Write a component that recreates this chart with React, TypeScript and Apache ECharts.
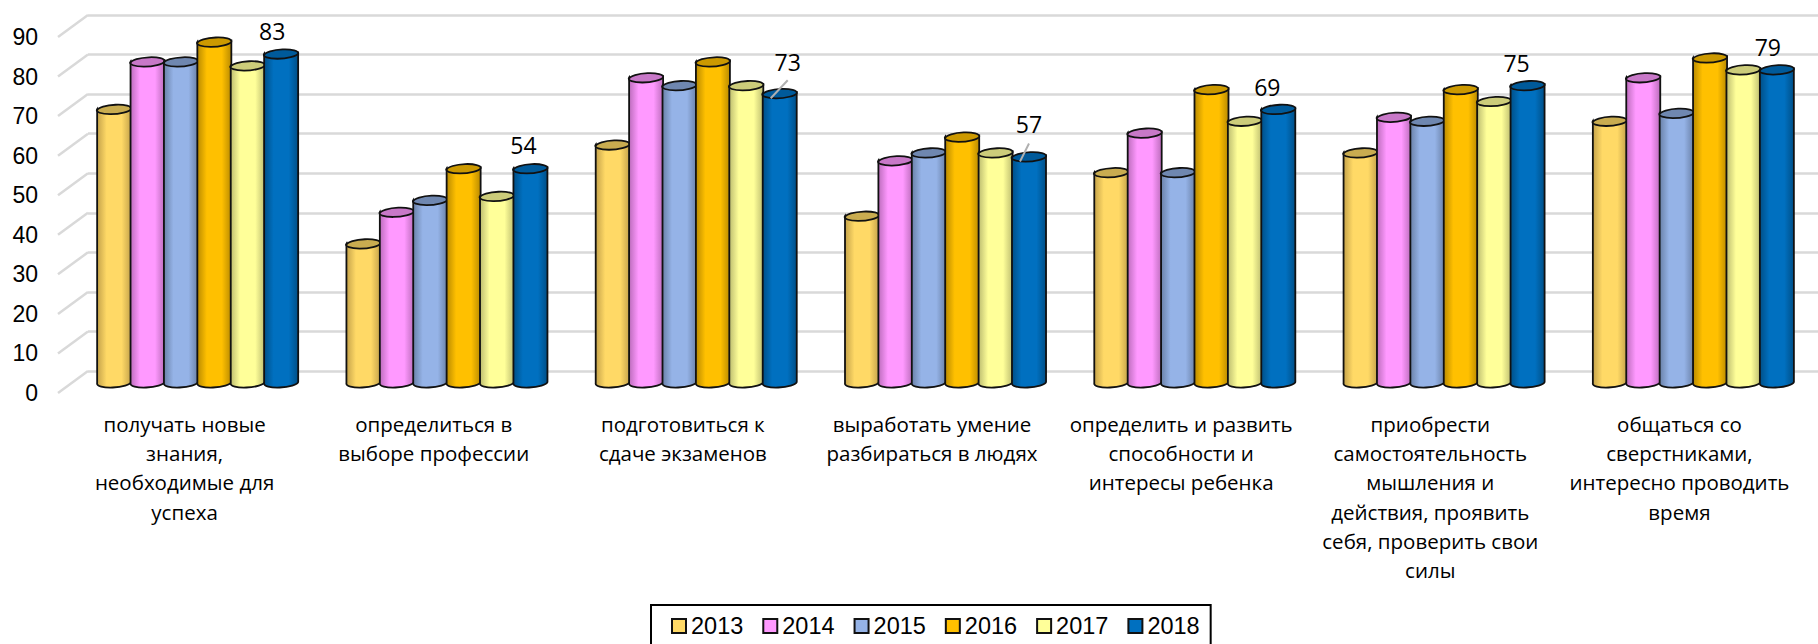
import React, { useEffect, useRef } from "react";
import * as echarts from "echarts";

const categories = [
  "получать новые\nзнания,\nнеобходимые для\nуспеха",
  "определиться в\nвыборе профессии",
  "подготовиться к\nсдаче экзаменов",
  "выработать умение\nразбираться в людях",
  "определить и развить\nспособности и\nинтересы ребенка",
  "приобрести\nсамостоятельность\nмышления и\nдействия, проявить\nсебя, проверить свои\nсилы",
  "общаться со\nсверстниками,\nинтересно проводить\nвремя",
];
const years = ["2013", "2014", "2015", "2016", "2017", "2018"];
const v2013 = [69, 35, 60, 42, 53, 58, 66];
const v2014 = [81, 43, 77, 56, 63, 67, 77];
const v2015 = [81, 46, 75, 58, 53, 66, 68];
const v2016 = [86, 54, 81, 62, 74, 74, 82];
const v2017 = [80, 47, 75, 58, 66, 71, 79];
const v2018 = [83, 54, 73, 57, 69, 75, 79];
const seriesValues = [v2013, v2014, v2015, v2016, v2017, v2018];
const yTicks = [0, 10, 20, 30, 40, 50, 60, 70, 80, 90];

const fillColors = ["#FFD966", "#FF99FF", "#95B3E7", "#FFC000", "#FFFF99", "#0070C0"];
const edgeColors = ["#C4A24A", "#BC6CBC", "#6A81A8", "#B98A00", "#BDBD70", "#004F87"];
const topColors = ["#C9AC50", "#C878C8", "#6F87B0", "#CC9900", "#CCCC7A", "#005A9A"];

const labelDx = [-9, -7, 8, 0, -11, -11, -9];
const labelDy = [-23, -23, -31, -33, -22, -22, -23];
const leaderTopDx = [0, 0, 8, 0, 0, 0, 0];
const hasLeader = [false, false, true, true, false, false, false];

const UI = '"Liberation Sans", Arial, sans-serif';
const CAL = '"Open Sans", sans-serif';
const BAR_W = 33.4;
const RX = 17;
const RY = 4.8;
const TILT = 1.3;

function cylinder(seriesIdx: number) {
  return (params: any, api: any) => {
    const cat = api.value(0);
    const val = api.value(1);
    const top = api.coord([cat, val]);
    const base = api.coord([cat, 0]);
    const cx = top[0] + (seriesIdx - 2.5) * BAR_W;
    const lx = cx - RX;
    const rx = cx + RX;
    const body =
      `M${lx} ${top[1] + TILT}L${lx} ${base[1] + TILT}` +
      `A${RX} ${RY} -4 0 0 ${rx} ${base[1] - TILT}L${rx} ${top[1] - TILT}Z`;
    const cap =
      `M${lx} ${top[1] + TILT}A${RX} ${RY} -4 0 1 ${rx} ${top[1] - TILT}` +
      `A${RX} ${RY} -4 0 1 ${lx} ${top[1] + TILT}Z`;
    const fill = fillColors[seriesIdx];
    const edge = edgeColors[seriesIdx];
    const children: any[] = [
      {
        type: "path",
        shape: { pathData: body },
        style: {
          fill: new echarts.graphic.LinearGradient(0, 0, 1, 0, [
            { offset: 0, color: edge },
            { offset: 0.28, color: fill },
            { offset: 0.72, color: fill },
            { offset: 1, color: edge },
          ]),
          stroke: "#111",
          lineWidth: 1.8,
        },
      },
      {
        type: "path",
        shape: { pathData: cap },
        style: { fill: topColors[seriesIdx], stroke: "#111", lineWidth: 1.8 },
      },
    ];
    if (seriesIdx === years.length - 1) {
      const i = params.dataIndex;
      if (hasLeader[i]) {
        children.push({
          type: "line",
          shape: { x1: cx + leaderTopDx[i], y1: top[1] - 13, x2: cx - 9, y2: top[1] + 5 },
          style: { stroke: "#B0B0B0", lineWidth: 2 },
        });
      }
      children.push({
        type: "text",
        x: cx + labelDx[i],
        y: top[1] + labelDy[i],
        style: {
          text: String(val),
          x: 0,
          y: 0,
          align: "center",
          verticalAlign: "middle",
          fill: "#000",
          font: `23px ${CAL}`,
        },
      });
    }
    return { type: "group", children };
  };
}

function wallTick(params: any, api: any) {
  const p = api.coord([0, api.value(0)]);
  const x = params.coordSys.x - 2;
  return {
    type: "line",
    shape: { x1: x, y1: p[1], x2: x + 30, y2: p[1] - 22 },
    style: { stroke: "#D9D9D9", lineWidth: 2.5 },
  };
}

export default function App() {
  const ref = useRef<HTMLDivElement>(null);
  useEffect(() => {
    const chart = echarts.init(ref.current!, undefined, { renderer: "svg" });
    chart.setOption({
      animation: false,
      backgroundColor: "#fff",
      grid: [
        { left: 88, top: 15, width: 1750, height: 356 },
        { left: 60, top: 37, width: 1744, height: 356 },
        { left: 73, top: 26, width: 1751, height: 356 },
      ],
      xAxis: [
        { gridIndex: 0, type: "category", data: categories, show: false },
        {
          gridIndex: 1,
          type: "category",
          data: categories,
          axisLine: { show: false },
          axisTick: { show: false },
          axisLabel: {
            interval: 0,
            margin: 16,
            color: "#000",
            fontFamily: CAL,
            fontSize: 20.5,
            lineHeight: 29.3,
            hideOverlap: false,
          },
        },
        { gridIndex: 2, type: "category", data: categories, show: false },
      ],
      yAxis: [
        {
          gridIndex: 0,
          type: "value",
          min: 0,
          max: 90,
          interval: 10,
          axisLine: { show: false },
          axisTick: { show: false },
          axisLabel: { show: false },
          splitLine: { show: true, lineStyle: { color: "#D9D9D9", width: 2.5 } },
        },
        {
          gridIndex: 1,
          type: "value",
          min: 0,
          max: 90,
          interval: 10,
          axisLine: { show: false },
          axisTick: { show: false },
          splitLine: { show: false },
          axisLabel: { margin: 22, color: "#000", fontFamily: UI, fontSize: 23 },
        },
        {
          gridIndex: 2,
          type: "value",
          min: 0,
          max: 90,
          interval: 10,
          show: false,
          splitLine: { show: false },
        },
      ],
      legend: {
        left: 651,
        top: 605,
        orient: "horizontal",
        selectedMode: false,
        borderColor: "#000",
        borderWidth: 2,
        padding: [9, 11, 20, 20],
        itemGap: 19,
        itemWidth: 14,
        itemHeight: 14,
        icon: "rect",
        textStyle: { color: "#000", fontFamily: UI, fontSize: 23.5 },
        data: years.map((y, i) => ({
          name: y,
          icon: "rect",
          itemStyle: { color: fillColors[i], borderColor: "#111", borderWidth: 2 },
        })),
      },
      series: [
        {
          type: "custom",
          name: "walls",
          xAxisIndex: 1,
          yAxisIndex: 1,
          silent: true,
          clip: false,
          data: yTicks.map((t) => [t]),
          encode: { y: 0 },
          renderItem: wallTick,
        },
        ...years.map((y, s) => ({
          type: "custom",
          name: y,
          xAxisIndex: 2,
          yAxisIndex: 2,
          clip: false,
          itemStyle: { color: fillColors[s] },
          encode: { x: 0, y: 1 },
          data: seriesValues[s].map((v, i) => [i, v]),
          renderItem: cylinder(s),
        })),
      ],
    });
    return () => chart.dispose();
  }, []);
  return <div ref={ref} style={{ position: "fixed", left: 0, top: 0, width: 1818, height: 644 }} />;
}
